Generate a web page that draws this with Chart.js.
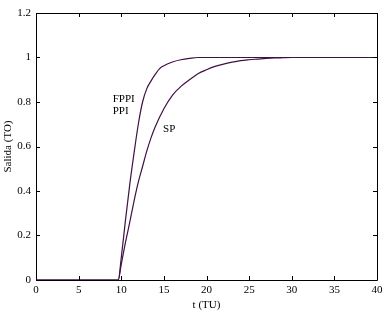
<!DOCTYPE html>
<html>
<head>
<meta charset="utf-8">
<script src="https://cdn.jsdelivr.net/npm/chart.js@4/dist/chart.umd.min.js"></script>
<style>
html,body{margin:0;padding:0;background:#fff;}
#wrap{width:389px;height:312px;position:relative;}
</style>
</head>
<body>
<div id="wrap"><canvas id="c" width="389" height="312"></canvas></div>
<script>
// Data
const fppiT = [0, 9.65, 10, 10.5, 11, 11.5, 12, 12.5, 13, 13.5, 14, 14.5, 15, 16, 17, 18, 19, 40];
const fppiY = [0, 0, 0.1, 0.27, 0.43, 0.57, 0.7, 0.8, 0.86, 0.895, 0.925, 0.95, 0.963, 0.98, 0.99, 0.996, 1, 1];
const spT = [0, 9.65, 10, 10.5, 11, 11.5, 12, 12.5, 13, 13.5, 14, 15, 16, 17, 18, 19, 20, 21, 22, 23, 24, 25, 26, 27, 28, 29, 30, 40];
const spY = [0, 0, 0.07, 0.17, 0.26, 0.355, 0.44, 0.51, 0.58, 0.64, 0.69, 0.77, 0.83, 0.87, 0.9, 0.927, 0.945, 0.96, 0.97, 0.979, 0.986, 0.99, 0.993, 0.996, 0.998, 0.999, 1, 1];
const xTicks = [0, 5, 10, 15, 20, 25, 30, 35, 40];
const yTicks = [0, 0.2, 0.4, 0.6, 0.8, 1, 1.2];
const labels = [
  {text: 'FPPI', x: 9.0, y: 0.815},
  {text: 'PPI', x: 9.0, y: 0.757},
  {text: 'SP', x: 14.9, y: 0.68}
];
const xTitle = 't (TU)';
const yTitle = 'Salida (TO)';

const lineColor = '#3e1142';
const font = {family: '"Liberation Serif", "Times New Roman", serif', size: 11};

const toPts = (t, y) => t.map((v, i) => ({x: v, y: y[i]}));

const framePlugin = {
  id: 'frame',
  afterDraw(chart) {
    const {ctx, chartArea: a, scales} = chart;
    ctx.save();
    ctx.strokeStyle = '#000';
    ctx.lineWidth = 1;
    ctx.beginPath();
    ctx.rect(Math.round(a.left) + 0.5, Math.round(a.top) + 0.5, Math.round(a.right - a.left), Math.round(a.bottom - a.top));
    ctx.stroke();
    const L = 4;
    ctx.beginPath();
    xTicks.forEach(v => {
      const px = Math.round(scales.x.getPixelForValue(v)) + 0.5;
      ctx.moveTo(px, a.bottom); ctx.lineTo(px, a.bottom - L);
      ctx.moveTo(px, a.top); ctx.lineTo(px, a.top + L);
    });
    yTicks.forEach(v => {
      const py = Math.round(scales.y.getPixelForValue(v)) + 0.5;
      ctx.moveTo(a.left, py); ctx.lineTo(a.left + L, py);
      ctx.moveTo(a.right, py); ctx.lineTo(a.right - L, py);
    });
    ctx.stroke();
    ctx.fillStyle = '#000';
    ctx.font = '11px ' + font.family;
    ctx.textBaseline = 'middle';
    ctx.textAlign = 'left';
    labels.forEach(l => {
      ctx.fillText(l.text, scales.x.getPixelForValue(l.x), scales.y.getPixelForValue(l.y));
    });
    ctx.restore();
  }
};

new Chart(document.getElementById('c'), {
  type: 'line',
  data: {
    datasets: [
      {label: 'FPPI / PPI', data: toPts(fppiT, fppiY), borderColor: lineColor, borderWidth: 1.2, pointRadius: 0, cubicInterpolationMode: 'monotone', fill: false},
      {label: 'SP', data: toPts(spT, spY), borderColor: lineColor, borderWidth: 1.2, pointRadius: 0, cubicInterpolationMode: 'monotone', fill: false}
    ]
  },
  options: {
    responsive: false,
    animation: false,
    devicePixelRatio: 1,
    layout: {padding: {top: 13, right: 12, left: 2, bottom: 0}},
    plugins: {legend: {display: false}, tooltip: {enabled: false}},
    scales: {
      x: {
        type: 'linear', min: 0, max: 40,
        afterBuildTicks: s => { s.ticks = xTicks.map(v => ({value: v})); },
        afterFit: s => { s.height = 32; },
        grid: {display: false, drawTicks: false},
        border: {display: false},
        ticks: {color: '#000', font: font, padding: 4, maxRotation: 0, autoSkip: false},
        title: {display: true, text: xTitle, color: '#000', font: font, padding: {top: 0, bottom: 0}}
      },
      y: {
        type: 'linear', min: 0, max: 1.2,
        afterBuildTicks: s => { s.ticks = yTicks.map(v => ({value: v})); },
        afterFit: s => { s.width = 34; },
        grid: {display: false, drawTicks: false},
        border: {display: false},
        ticks: {color: '#000', font: font, padding: 5, autoSkip: false,
          callback: v => String(Math.round(v * 10) / 10)},
        title: {display: true, text: yTitle, color: '#000', font: font, padding: {top: 0, bottom: 0}}
      }
    }
  },
  plugins: [framePlugin]
});
</script>
</body>
</html>
